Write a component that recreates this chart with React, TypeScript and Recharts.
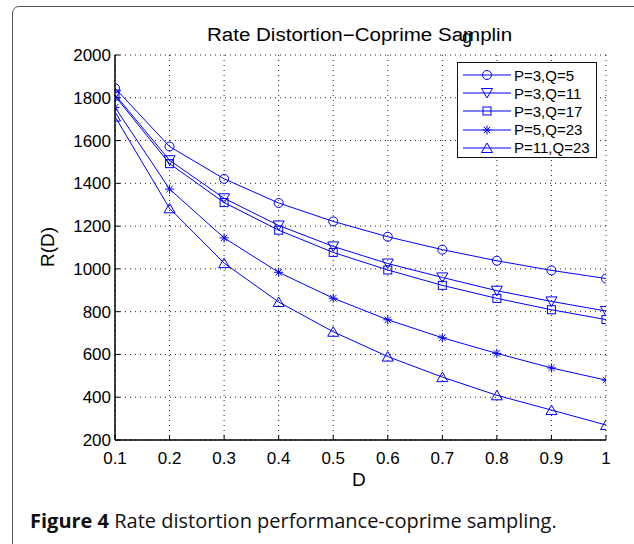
import { LineChart, Line, XAxis, YAxis, CartesianGrid, Legend } from 'recharts';

const dValues = [0.1, 0.2, 0.3, 0.4, 0.5, 0.6, 0.7, 0.8, 0.9, 1];
const p3q5 = [1845, 1572, 1421, 1308, 1222, 1150, 1090, 1038, 993, 955];
const p3q11 = [1815, 1508, 1330, 1203, 1105, 1025, 960, 898, 848, 803];
const p3q17 = [1808, 1492, 1310, 1181, 1077, 995, 923, 862, 809, 763];
const p5q23 = [1755, 1373, 1145, 984, 863, 762, 678, 605, 537, 480];
const p11q23 = [1712, 1283, 1027, 845, 706, 590, 494, 409, 340, 270];
const yTicks = [200, 400, 600, 800, 1000, 1200, 1400, 1600, 1800, 2000];

const BLUE = '#0000ff';
const FONT = '"Liberation Sans", Arial, sans-serif';

type Marker = 'circle' | 'tdown' | 'square' | 'star' | 'tup';

const SERIES: Array<{ key: string; name: string; values: number[]; marker: Marker }> = [
  { key: 's1', name: 'P=3,Q=5', values: p3q5, marker: 'circle' },
  { key: 's2', name: 'P=3,Q=11', values: p3q11, marker: 'tdown' },
  { key: 's3', name: 'P=3,Q=17', values: p3q17, marker: 'square' },
  { key: 's4', name: 'P=5,Q=23', values: p5q23, marker: 'star' },
  { key: 's5', name: 'P=11,Q=23', values: p11q23, marker: 'tup' },
];

const data = dValues.map((d, i) => {
  const row: Record<string, number> = { d };
  SERIES.forEach((s) => (row[s.key] = s.values[i]));
  return row;
});

function markerShape(kind: Marker, cx: number, cy: number, key?: string) {
  const common = { fill: 'none', stroke: BLUE, strokeWidth: 1 };
  switch (kind) {
    case 'circle':
      return <circle key={key} cx={cx} cy={cy} r={4.5} {...common} />;
    case 'tdown':
      return <polygon key={key} points={`${cx - 5.5},${cy - 4.5} ${cx + 5.5},${cy - 4.5} ${cx},${cy + 5}`} {...common} />;
    case 'square':
      return <rect key={key} x={cx - 4} y={cy - 4} width={8} height={8} {...common} />;
    case 'tup':
      return <polygon key={key} points={`${cx - 5.5},${cy + 4.5} ${cx + 5.5},${cy + 4.5} ${cx},${cy - 5}`} {...common} />;
    case 'star':
    default:
      return (
        <g key={key} {...common}>
          <line x1={cx - 4.5} y1={cy} x2={cx + 4.5} y2={cy} />
          <line x1={cx} y1={cy - 4.5} x2={cx} y2={cy + 4.5} />
          <line x1={cx - 3.2} y1={cy - 3.2} x2={cx + 3.2} y2={cy + 3.2} />
          <line x1={cx - 3.2} y1={cy + 3.2} x2={cx + 3.2} y2={cy - 3.2} />
        </g>
      );
  }
}

function renderLegend() {
  return (
    <div
      style={{
        width: 140,
        height: 96,
        boxSizing: 'border-box',
        border: '1.5px solid #111',
        background: '#fff',
        paddingTop: 3,
        fontFamily: FONT,
        fontSize: 15,
        color: '#000',
      }}
    >
      {SERIES.map((s) => (
        <div key={s.key} style={{ display: 'flex', alignItems: 'center', height: 18.2 }}>
          <svg width={56} height={18} style={{ flex: 'none' }}>
            <line x1={5} y1={9} x2={53} y2={9} stroke={BLUE} strokeWidth={1} />
            {markerShape(s.marker, 29, 9)}
          </svg>
          <span style={{ whiteSpace: 'nowrap' }}>{s.name}</span>
        </div>
      ))}
    </div>
  );
}

export default function App() {
  return (
    <div style={{ position: 'absolute', left: 0, top: 0, width: 634, height: 544, overflow: 'hidden', background: '#fff', fontFamily: FONT }}>
      <div
        style={{
          position: 'absolute',
          left: 12,
          top: 6,
          width: 660,
          height: 580,
          border: '1.5px solid #555',
          borderRadius: 7,
          boxSizing: 'border-box',
        }}
      />
      <div style={{ position: 'absolute', left: 207, top: 25, fontSize: 18, color: '#000', whiteSpace: 'nowrap', transform: 'scaleX(1.14)', transformOrigin: 'left center' }}>
        Rate Distortion−Coprime Samplin
      </div>
      <div style={{ position: 'absolute', left: 462, top: 27, fontSize: 18, color: '#000' }}>g</div>
      <div style={{ position: 'absolute', left: 0, top: 0 }}>
        <LineChart width={634} height={544} data={data} margin={{ top: 55, right: 28, bottom: 74, left: 55 }}>
          <CartesianGrid stroke="#222" strokeDasharray="1 4" />
          <XAxis
            dataKey="d"
            type="number"
            domain={[0.1, 1]}
            ticks={dValues}
            allowDataOverflow
            height={30}
            tickSize={-5}
            tickMargin={17}
            axisLine={{ stroke: '#000', strokeWidth: 1.5 }}
            tickLine={{ stroke: '#000' }}
            tick={{ fill: '#000', fontSize: 17, fontFamily: FONT }}
          />
          <XAxis
            xAxisId="top"
            orientation="top"
            type="number"
            domain={[0.1, 1]}
            ticks={dValues}
            allowDataOverflow
            height={0}
            tickSize={-5}
            tick={false}
            axisLine={{ stroke: '#000', strokeWidth: 1.5 }}
            tickLine={{ stroke: '#000' }}
          />
          <YAxis
            type="number"
            domain={[200, 2000]}
            ticks={yTicks}
            allowDataOverflow
            width={60}
            tickSize={-5}
            tickMargin={9}
            axisLine={{ stroke: '#000', strokeWidth: 1.5 }}
            tickLine={{ stroke: '#000' }}
            tick={{ fill: '#000', fontSize: 17, fontFamily: FONT }}
          />
          <YAxis
            yAxisId="right"
            orientation="right"
            type="number"
            domain={[200, 2000]}
            ticks={yTicks}
            allowDataOverflow
            width={0}
            tickSize={-5}
            tick={false}
            axisLine={{ stroke: '#000', strokeWidth: 1.5 }}
            tickLine={{ stroke: '#000' }}
          />
          <Legend
            layout="vertical"
            align="center"
            verticalAlign="middle"
            content={renderLegend}
            wrapperStyle={{ left: 457, top: 62, width: 140, height: 96 }}
          />
          {SERIES.map((s) => (
            <Line
              key={s.key}
              dataKey={s.key}
              name={s.name}
              stroke={BLUE}
              strokeWidth={1}
              isAnimationActive={false}
              activeDot={false}
              dot={(p: any) => markerShape(s.marker, p.cx, p.cy, `${s.key}-${p.index}`)}
            />
          ))}
        </LineChart>
      </div>
      <div style={{ position: 'absolute', left: 352, top: 469, fontSize: 19, color: '#000' }}>D</div>
      <div
        style={{
          position: 'absolute',
          left: 48,
          top: 247,
          fontSize: 19,
          color: '#000',
          whiteSpace: 'nowrap',
          transform: 'translate(-50%, -50%) rotate(-90deg)',
        }}
      >
        R(D)
      </div>
      <div style={{ position: 'absolute', left: 30, top: 507, fontSize: 20, color: '#111', fontFamily: '"Open Sans", "Noto Sans", sans-serif', whiteSpace: 'nowrap' }}>
        <b>Figure 4</b> Rate distortion performance-coprime sampling.
      </div>
    </div>
  );
}
